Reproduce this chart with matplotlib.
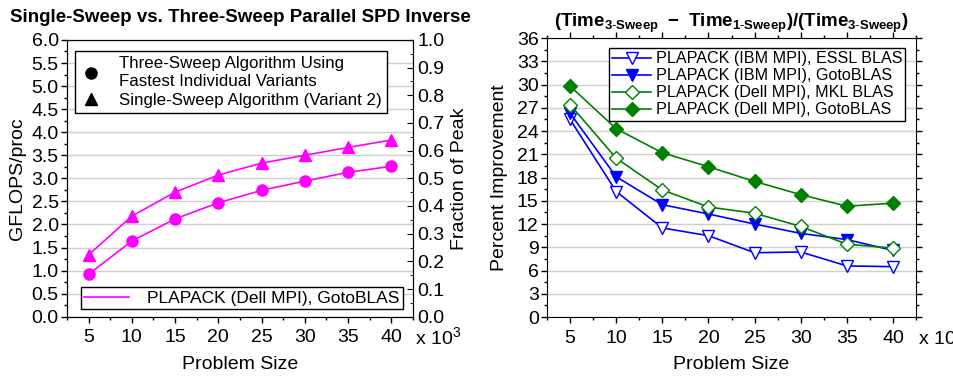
import matplotlib.pyplot as plt
from matplotlib.ticker import MultipleLocator
from matplotlib.lines import Line2D

plt.rcParams['font.family'] = ['Liberation Sans', 'DejaVu Sans']
plt.rcParams['mathtext.fontset'] = 'custom'
plt.rcParams['mathtext.rm'] = 'Liberation Sans'
plt.rcParams['mathtext.bf'] = 'Liberation Sans:bold'

sizes = [5, 10, 15, 20, 25, 30, 35, 40]

# left panel: GFLOPS/proc
three_sweep = [0.92, 1.64, 2.12, 2.47, 2.74, 2.94, 3.13, 3.26]
single_sweep = [1.34, 2.18, 2.70, 3.07, 3.33, 3.50, 3.67, 3.83]

# right panel: percent improvement
ibm_essl = [25.5, 16.2, 11.5, 10.5, 8.3, 8.4, 6.6, 6.5]
ibm_goto = [26.3, 18.1, 14.5, 13.3, 12.0, 10.8, 10.0, 8.6]
dell_mkl = [27.4, 20.5, 16.4, 14.2, 13.4, 11.7, 9.4, 8.9]
dell_goto = [29.8, 24.3, 21.2, 19.4, 17.5, 15.8, 14.3, 14.7]

magenta = '#ff00ff'
blue = '#0000ff'
green = '#008000'

fig = plt.figure(figsize=(9.54, 3.77), dpi=100)
ax1 = fig.add_axes([0.0702, 0.160, 0.3627, 0.734])
ax2 = fig.add_axes([0.5734, 0.159, 0.3868, 0.740])

fs = 14


def style_axis(ax):
    ax.set_xlim(2.5, 42.5)
    ax.xaxis.set_major_locator(MultipleLocator(5))
    ax.xaxis.set_minor_locator(MultipleLocator(2.5))
    ax.grid(axis='y', color='#d0d0d0', linewidth=1)
    ax.set_axisbelow(True)
    ax.tick_params(axis='both', which='major', labelsize=fs, length=4, width=1, pad=2)
    ax.tick_params(axis='both', which='minor', length=2.5, width=1)
    ax.tick_params(axis='x', pad=5)
    ax.set_xlabel('Problem Size', fontsize=fs, labelpad=7)
    ax.text(1.005, -0.075, r'x 10$^3$', transform=ax.transAxes, fontsize=fs,
            ha='left', va='center')


# ---- left panel
ax1.plot(sizes, three_sweep, color=magenta, marker='o', markersize=8, lw=1.2)
ax1.plot(sizes, single_sweep, color=magenta, marker='^', markersize=9, lw=1.2)
ax1.set_ylim(0, 6)
ax1.yaxis.set_major_locator(MultipleLocator(0.5))
ax1.yaxis.set_minor_locator(MultipleLocator(0.25))
ax1.set_ylabel('GFLOPS/proc', fontsize=fs, labelpad=4)
style_axis(ax1)
ax1.set_title('Single-Sweep vs. Three-Sweep Parallel SPD Inverse',
              fontsize=13.5, fontweight='bold', pad=13)

ax1r = ax1.twinx()
ax1r.set_ylim(0, 1)
ax1r.yaxis.set_major_locator(MultipleLocator(0.1))
ax1r.yaxis.set_minor_locator(MultipleLocator(0.05))
ax1r.tick_params(axis='y', which='major', labelsize=fs, length=4, direction='in', pad=3)
ax1r.tick_params(axis='y', which='minor', length=2.5, direction='in')
ax1r.set_ylabel('Fraction of Peak', fontsize=fs, labelpad=5)

h_marks = [
    Line2D([], [], color='black', marker='o', markersize=8, linestyle='none'),
    Line2D([], [], color='black', marker='^', markersize=9, linestyle='none'),
]
leg1 = ax1.legend(h_marks, ['Three-Sweep Algorithm Using\nFastest Individual Variants',
                            'Single-Sweep Algorithm (Variant 2)'],
                  loc='upper left', bbox_to_anchor=(0.0, 0.99), fontsize=12.2,
                  fancybox=False, edgecolor='black', framealpha=1,
                  handlelength=1.2, handletextpad=1.1, labelspacing=0.25,
                  borderpad=0.3)
leg1.get_frame().set_linewidth(1)
ax1.add_artist(leg1)
h_line = [Line2D([], [], color=magenta, lw=1.2)]
leg2 = ax1.legend(h_line, ['PLAPACK (Dell MPI), GotoBLAS'], loc='lower left',
                  bbox_to_anchor=(0.035, 0.02), fontsize=12.5, fancybox=False,
                  edgecolor='black', framealpha=1, handlelength=2.6,
                  handletextpad=1.0, borderpad=0.2, borderaxespad=0.1)
leg2.get_frame().set_linewidth(1)

# ---- right panel
ax2.plot(sizes, ibm_essl, color=blue, marker='v', markersize=9, lw=1.2,
         markerfacecolor='white', label='PLAPACK (IBM MPI), ESSL BLAS')
ax2.plot(sizes, ibm_goto, color=blue, marker='v', markersize=9, lw=1.2,
         label='PLAPACK (IBM MPI), GotoBLAS')
ax2.plot(sizes, dell_mkl, color=green, marker='D', markersize=7.5, lw=1.2,
         markerfacecolor='white', label='PLAPACK (Dell MPI), MKL BLAS')
ax2.plot(sizes, dell_goto, color=green, marker='D', markersize=7.5, lw=1.2,
         label='PLAPACK (Dell MPI), GotoBLAS')
ax2.set_ylim(0, 36)
ax2.yaxis.set_major_locator(MultipleLocator(3))
ax2.yaxis.set_minor_locator(MultipleLocator(1.5))
ax2.set_ylabel('Percent Improvement', fontsize=fs, labelpad=6)
style_axis(ax2)
ax2.tick_params(axis='y', which='both', right=True)
ax2.tick_params(axis='x', which='both', top=True)
ax2.set_title(r'$\mathbf{(Time_{3\text{-}Sweep}\ -\ Time_{1\text{-}Sweep})/(Time_{3\text{-}Sweep})}$',
              fontsize=13.5, pad=8)
leg3 = ax2.legend(loc='upper right', bbox_to_anchor=(0.98, 0.975), fontsize=11.6,
                  fancybox=False, edgecolor='black', framealpha=1,
                  handlelength=2.4, handletextpad=0.3, labelspacing=0.12,
                  borderpad=0.2, borderaxespad=0.2)
leg3.get_frame().set_linewidth(1)

fig.savefig('out.png', dpi=100)
